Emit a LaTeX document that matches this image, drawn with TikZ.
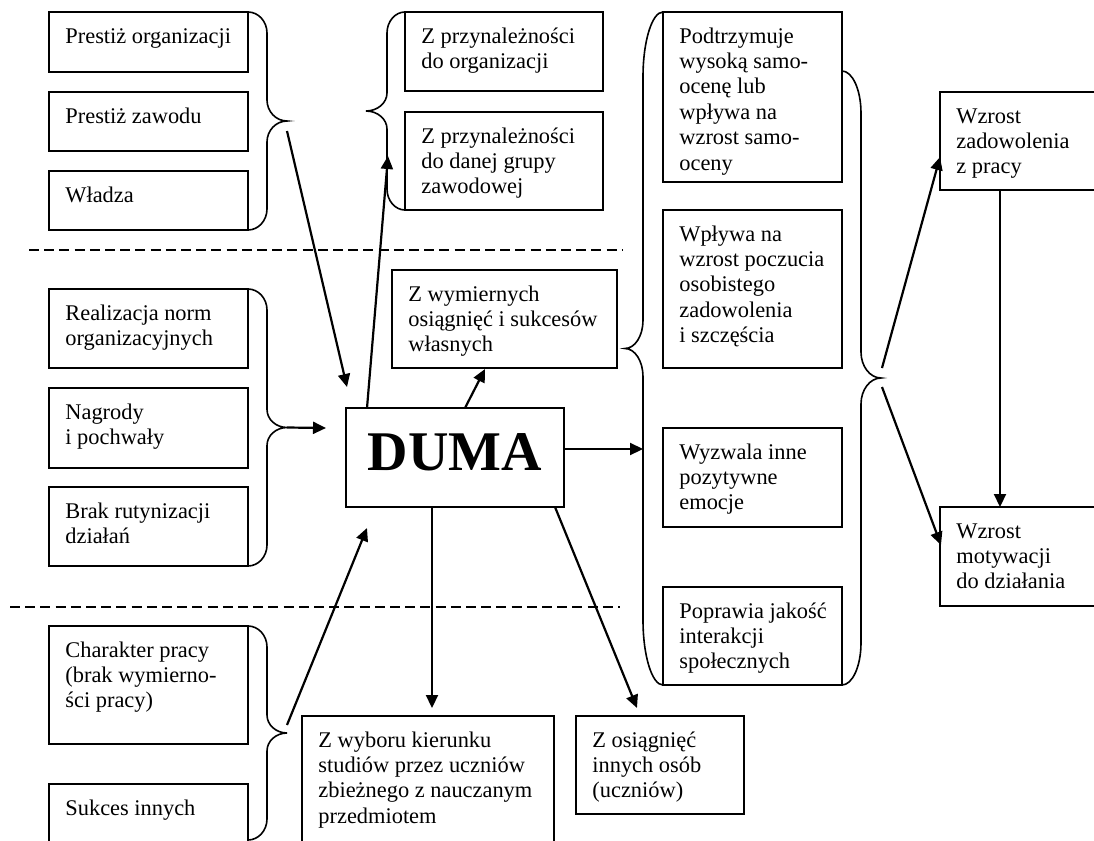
\documentclass[tikz,border=0pt]{standalone}
\usepackage{fontspec}
\setmainfont{Liberation Serif}
\usetikzlibrary{arrows.meta}
\tikzset{
  boxst/.style={draw, line width=0.8pt, inner sep=0pt, outer sep=0pt, anchor=north west},
  txtst/.style={anchor=north west, inner xsep=8pt, inner ysep=6.5pt, align=left, font=\fontsize{11.2}{12.7}\selectfont},
  bracest/.style={line width=0.8pt},
  arrst/.style={line width=1.1pt, -{Triangle[length=6.5pt,width=6pt]}},
  dashst/.style={line width=0.8pt, dash pattern=on 5pt off 2.6pt},
}
\newcommand\mybox[6]{%
  \node[boxst, minimum width=#4*0.5pt, minimum height=#5*0.5pt] (#1) at (#2,#3) {};
  \node[txtst] (#1-t) at (#1.north west) {\strut #6};}
% #1 box edge x, #2 vertical x, #3 tip x, #4 top y, #5 bottom y, #6 end radius, #7 mid radius, #8 tip name
\newcommand\mybrace[8]{%
  \draw[bracest] (#1,#4)
    .. controls ({#1+0.55*(#2-#1)},#4) and (#2,{#4+0.45*#6}) .. (#2,{#4+#6})
    -- (#2,{(#4+#5)/2-#7})
    .. controls (#2,{(#4+#5)/2-0.45*#7}) and ({#2+0.45*(#3-#2)},{(#4+#5)/2}) .. (#3,{(#4+#5)/2})
    .. controls ({#2+0.45*(#3-#2)},{(#4+#5)/2}) and (#2,{(#4+#5)/2+0.45*#7}) .. (#2,{(#4+#5)/2+#7})
    -- (#2,{#5-#6})
    .. controls (#2,{#5-0.45*#6}) and ({#1+0.55*(#2-#1)},#5) .. (#1,#5);
  \coordinate (#8) at (#3,{(#4+#5)/2});}
\begin{document}
\begin{tikzpicture}[x=0.5pt,y=-0.5pt]
\useasboundingbox (0,0) rectangle (1094,841);
\clip (0,0) rectangle (1094,841);
% left column
\mybox{po}{49}{12}{199}{60}{Prestiż organizacji}
\mybox{pz}{49}{92}{199}{59}{Prestiż zawodu}
\mybox{wl}{49}{171}{199}{59}{Władza}
\mybox{rn}{49}{289}{199}{79}{Realizacja norm\\organizacyjnych}
\mybox{np}{49}{388}{199}{80}{Nagrody\\i pochwały}
\mybox{br}{49}{487}{199}{79}{Brak rutynizacji\\działań}
\mybox{ch}{49}{626}{199}{118}{Charakter pracy\\(brak wymierno-\\ści pracy)}
\mybox{si}{49}{784}{199}{120}{Sukces innych}
% middle
\mybox{zo}{405}{12}{198}{79}{Z przynależności\\do organizacji}
\mybox{zg}{405}{112}{198}{98}{Z przynależności\\do danej grupy\\zawodowej}
\mybox{zw}{392}{270}{225}{98}{Z wymiernych\\osiągnięć i sukcesów\\własnych}
\node[boxst, minimum width=218*0.5pt, minimum height=99*0.5pt] (duma) at (346,408) {};
\node[font=\fontsize{28}{30}\selectfont\bfseries, inner sep=0pt] (duma-t) at ([yshift=2.5pt]duma.center) {DUMA};
\mybox{zwk}{302}{716}{252}{160}{Z wyboru kierunku\\studiów przez uczniów\\zbieżnego z nauczanym\\przedmiotem}
\mybox{zoi}{576}{716}{168}{98}{Z osiągnięć\\innych osób\\(uczniów)}
% right column
\mybox{pt}{663}{12}{179}{170}{Podtrzymuje\\wysoką samo-\\ocenę lub\\wpływa na\\wzrost samo-\\oceny}
\mybox{wp}{663}{210}{179}{158}{Wpływa na\\wzrost poczucia\\osobistego\\zadowolenia\\i szczęścia}
\mybox{wy}{663}{428}{179}{99}{Wyzwala inne\\pozytywne\\emocje}
\mybox{pj}{663}{587}{179}{98}{Poprawia jakość\\interakcji\\społecznych}
\mybox{wz}{940}{92}{170}{98}{Wzrost\\zadowolenia\\z pracy}
\mybox{wm}{940}{507}{170}{99}{Wzrost\\motywacji\\do działania}
% braces
\mybrace{248}{267}{287}{12}{230}{21}{21}{g1}
\mybrace{405}{387}{366}{12}{210}{21}{18}{gz}
\mybrace{248}{267}{287}{289}{566}{21}{18}{g2}
\mybrace{248}{267}{287}{626}{840}{21}{18}{g3}
\mybrace{663}{643}{625}{12}{685}{65}{28}{gr}
\mybrace{842}{861}{881}{71}{685}{42}{26}{gs}
% dashed separators
\draw[dashst] (29,250) -- (622,250);
\draw[dashst] (10,607) -- (620,607);
% connector end points
\coordinate (a1s) at (287,131);
\coordinate (a1e) at (347,387);
\coordinate (a2s) at (367,408);
\coordinate (a2e) at (388,156);
\coordinate (a3e) at (326,428);
\coordinate (a4s) at (287,725);
\coordinate (a4e) at (367,528);
\coordinate (a5s) at (465,408);
\coordinate (a5e) at (485,369);
\coordinate (a6s) at (564,449);
\coordinate (a6e) at (643,449);
\coordinate (a7s) at (432,507);
\coordinate (a7e) at (432,708);
\coordinate (a8s) at (555,507);
\coordinate (a8e) at (637,708);
\coordinate (a9s) at (882,368);
\coordinate (a9e) at (940,157);
\coordinate (a10s) at (882,387);
\coordinate (a10e) at (941,545);
\coordinate (a11s) at (1000,190);
\coordinate (a11e) at (1000,507);
% connectors
\draw[arrst] (a1s) -- (a1e);
\draw[arrst] (a2s) -- (a2e);
\draw[arrst] (g2) -- (a3e);
\draw[arrst] (a4s) -- (a4e);
\draw[arrst] (a5s) -- (a5e);
\draw[arrst] (a6s) -- (a6e);
\draw[arrst] (a7s) -- (a7e);
\draw[arrst] (a8s) -- (a8e);
\draw[arrst] (a9s) -- (a9e);
\draw[arrst] (a10s) -- (a10e);
\draw[arrst] (a11s) -- (a11e);
\end{tikzpicture}
\end{document}
